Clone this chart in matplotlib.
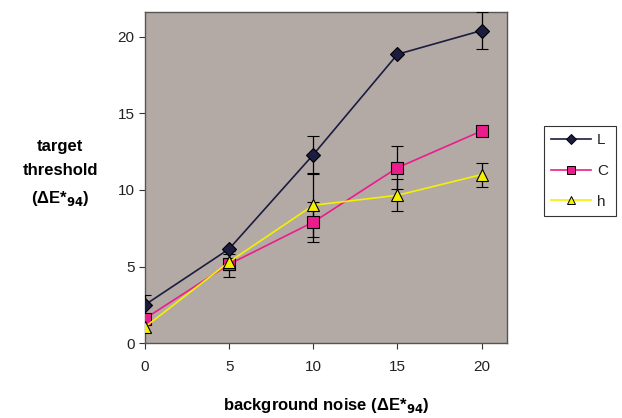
import matplotlib
matplotlib.use("Agg")
import matplotlib.pyplot as plt
from matplotlib.lines import Line2D

plt.rcParams['font.family'] = ['Liberation Sans', 'DejaVu Sans']

noise = [0, 5, 10, 15, 20]
L_vals = [2.5, 6.15, 12.3, 18.85, 20.4]
L_err = [0.65, 0.0, 1.25, 0.0, 1.2]
C_vals = [1.6, 5.15, 7.9, 11.45, 13.85]
C_err = [0.3, 0.85, 1.3, 1.4, 0.3]
h_vals = [1.05, 5.3, 9.0, 9.65, 11.0]
h_err = [0.3, 0.5, 2.1, 1.05, 0.78]

fig = plt.figure(figsize=(6.22, 4.18), dpi=100, facecolor='white')
ax = fig.add_axes([0.233, 0.179, 0.582, 0.792], facecolor='#b3aaa6')

series = [
    ('L', L_vals, L_err, '#1c1c40', 'D', 7),
    ('C', C_vals, C_err, '#ec1c8c', 's', 9),
    ('h', h_vals, h_err, '#f5f000', '^', 9),
]
handles = []
for name, vals, err, col, mk, ms in series:
    ax.errorbar(noise, vals, yerr=err, color=col, lw=1.2, marker=mk,
                markersize=ms, markerfacecolor=col, markeredgecolor='black',
                markeredgewidth=0.8, ecolor='black', elinewidth=0.9,
                capsize=4, capthick=0.9, zorder=3)
    handles.append(Line2D([], [], color=col, lw=1.2, marker=mk,
                          markersize=ms * 0.7, markerfacecolor=col,
                          markeredgecolor='black', markeredgewidth=0.7,
                          label=name))

ax.set_xlim(0, 21.5)
ax.set_ylim(0, 21.6)
ax.set_xticks(noise)
ax.set_yticks([0, 5, 10, 15, 20])
ax.tick_params(direction='out', length=4, labelsize=11, color='#333333',
               labelcolor='#222222')
ax.tick_params(axis='x', pad=8)
for s in ax.spines.values():
    s.set_color('#555555')
    s.set_linewidth(1.0)

ax.set_xlabel('background noise (ΔE*$_{\\mathbf{94}}$)', fontsize=12,
              fontweight='bold', labelpad=16)
fig.text(0.097, 0.585, 'target\nthreshold\n(ΔE*$_{\\mathbf{94}}$)', fontsize=12,
         fontweight='bold', ha='center', va='center', linespacing=1.75)

leg = ax.legend(handles=handles, loc='center left', bbox_to_anchor=(1.08, 0.52),
                frameon=True, fancybox=False, edgecolor='black',
                fontsize=11, handlelength=2.6, borderpad=0.5, labelspacing=1.1,
                handletextpad=0.4)
leg.get_frame().set_linewidth(0.8)
for t in leg.get_texts():
    t.set_color('#222222')

fig.savefig('out.png', dpi=100, facecolor='white')
